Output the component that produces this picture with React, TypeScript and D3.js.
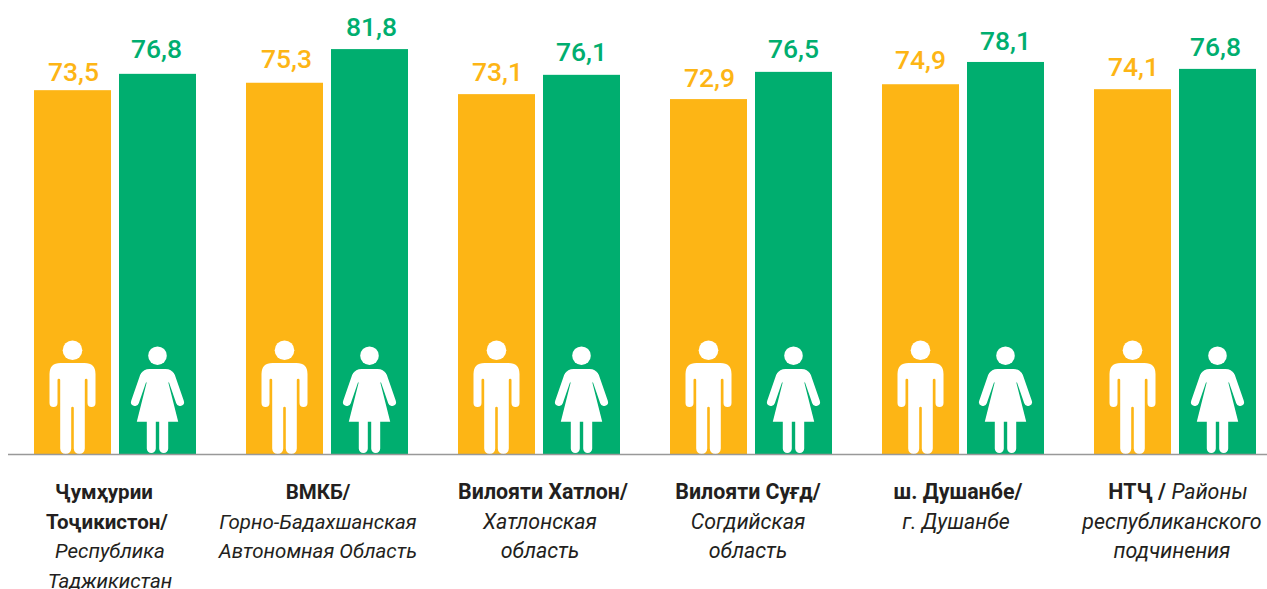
import * as d3 from 'd3';

const categories = ['tj', 'gbao', 'khatlon', 'sughd', 'dushanbe', 'rrs'];
const maleLabels = ['73,5', '75,3', '73,1', '72,9', '74,9', '74,1'];
const femaleLabels = ['76,8', '81,8', '76,1', '76,5', '78,1', '76,8'];
// the bars in the picture are not quite to scale with their labels, so these are read off the bar heights
const maleBars = [73.5, 75.0, 72.7, 71.7, 74.7, 73.7];
const femaleBars = [76.8, 81.8, 76.6, 77.2, 79.2, 77.8];

type Seg = { t: string; bold?: boolean };
const categoryLines: Seg[][][] = [
    [[{ t: 'Ҷумҳурии', bold: true }], [{ t: 'Тоҷикистон/', bold: true }], [{ t: 'Республика' }], [{ t: 'Таджикистан' }]],
    [[{ t: 'ВМКБ/', bold: true }], [{ t: 'Горно-Бадахшанская' }], [{ t: 'Автономная Область' }]],
    [[{ t: 'Вилояти Хатлон/', bold: true }], [{ t: 'Хатлонская' }], [{ t: 'область' }]],
    [[{ t: 'Вилояти Суғд/', bold: true }], [{ t: 'Согдийская' }], [{ t: 'область' }]],
    [[{ t: 'ш. Душанбе/', bold: true }], [{ t: 'г. Душанбе' }]],
    [[{ t: 'НТҶ / ', bold: true }, { t: 'Районы' }], [{ t: 'республиканского' }], [{ t: 'подчинения' }]],
];

const width = 1267;
const height = 589;
const baseline = 454;
const yellow = '#FDB515';
const green = '#00AE6F';
const font = 'Roboto, sans-serif';

// label placement, px
const labelShift = [-9, -9, 4, -3, -5, -3];
const labelSize = [20.5, 20.5, 21.4, 21.4, 21.4, 21.4];
const lineShift = [
    [-2, 1, 4, 4],
    [0, 0, 0],
    [0, -3, -3],
    [0, 0, 0],
    [0, -2],
    [6, 0, 0],
];
const maleGap = [9, 15, 13, 12, 15, 13];
const femaleGap = [16, 13, 14, 14, 12, 13];
const maleNudge = [1, 2, 1, 1, 0, 1];
const femaleNudge = [-1, 2, 0, 0, 0, -2];

const manPath =
    'M-23,-51 L-23,-80 Q-23,-91 -12,-91 L12,-91 Q23,-91 23,-80 L23,-51 A4,4 0 0 1 15,-51 L15,-74 A1.35,1.35 0 0 0 12.3,-74 ' +
    'L12.3,-5.5 A5.5,5.5 0 0 1 1.3,-5.5 L1.3,-46 A1.3,1.3 0 0 0 -1.3,-46 L-1.3,-5.5 A5.5,5.5 0 0 1 -12.3,-5.5 L-12.3,-74 ' +
    'A1.35,1.35 0 0 0 -15,-74 L-15,-51 A4,4 0 0 1 -23,-51 Z';
const womanPath =
    'M-9,-70 L-10.7,-72 L-20.7,-32.3 L-10.7,-32.3 L-10.7,-5.5 A4.5,4.5 0 0 0 -1.7,-5.5 L-1.7,-32.3 L1.7,-32.3 ' +
    'L1.7,-5.5 A4.5,4.5 0 0 0 10.7,-5.5 L10.7,-32.3 L20.7,-32.3 L10.7,-72 L9,-70 Z';

const Man = ({ x }: { x: number }) => (
    <g transform={`translate(${x},${baseline})`} fill="#fff">
        <circle cy={-103.7} r={9.8} />
        <path d={manPath} />
    </g>
);

const Woman = ({ x }: { x: number }) => (
    <g transform={`translate(${x},${baseline})`} fill="#fff" stroke="none">
        <circle cy={-98.3} r={9.3} />
        <path d={womanPath} />
        <path d="M-13.5,-78 L-22.5,-52 M13.5,-78 L22.5,-52" stroke="#fff" strokeWidth={8} strokeLinecap="round" fill="none" />
        <path d="M-16.5,-80 Q-14,-85 -8,-85 L8,-85 Q14,-85 16.5,-80 L10,-70 L-10,-70 Z" />
    </g>
);

export default function App() {
    const x0 = d3.scaleBand<string>().domain(categories).range([9, 9 + 212 * categories.length]);
    const x1 = d3.scaleBand<string>().domain(['male', 'female']).range([25, 187]).paddingInner(8 / 85);
    const y = d3.scaleLinear().domain([0, 100]).range([baseline, baseline - 495]);
    const bw = x1.bandwidth();

    return (
        <svg
            width={width}
            height={height}
            style={{ position: 'absolute', left: 0, top: 0, background: '#fff' }}
            fontFamily={font}
        >
            {categories.map((c, i) => {
                const gx = x0(c) as number;
                const mx = gx + (x1('male') as number);
                const fx = gx + (x1('female') as number);
                return (
                    <g key={c}>
                        <rect x={mx} y={y(maleBars[i])} width={bw} height={baseline - y(maleBars[i])} fill={yellow} />
                        <rect x={fx} y={y(femaleBars[i])} width={bw} height={baseline - y(femaleBars[i])} fill={green} />
                        <text
                            x={mx + bw / 2 + maleNudge[i]}
                            y={y(maleBars[i]) - maleGap[i]}
                            textAnchor="middle"
                            fontSize={26.5}
                            fontWeight={500}
                            fill={yellow}
                        >
                            {maleLabels[i]}
                        </text>
                        <text
                            x={fx + bw / 2 + femaleNudge[i]}
                            y={y(femaleBars[i]) - femaleGap[i]}
                            textAnchor="middle"
                            fontSize={26.5}
                            fontWeight={500}
                            fill={green}
                        >
                            {femaleLabels[i]}
                        </text>
                        <Man x={mx + bw / 2} />
                        <Woman x={fx + bw / 2} />
                        <text textAnchor="middle" fontSize={labelSize[i]} fill="#231F20">
                            {categoryLines[i].map((line, j) => (
                                <tspan key={j} x={gx + 106 + labelShift[i] + lineShift[i][j]} y={499 + j * 29.5}>
                                    {line.map((s, k) => (
                                        <tspan key={k} fontWeight={s.bold ? 700 : 400} fontStyle={s.bold ? 'normal' : 'italic'}>
                                            {s.t}
                                        </tspan>
                                    ))}
                                </tspan>
                            ))}
                        </text>
                    </g>
                );
            })}
            <line x1={8} x2={width} y1={baseline + 0.5} y2={baseline + 0.5} stroke="#999" strokeWidth={1.5} />
        </svg>
    );
}
